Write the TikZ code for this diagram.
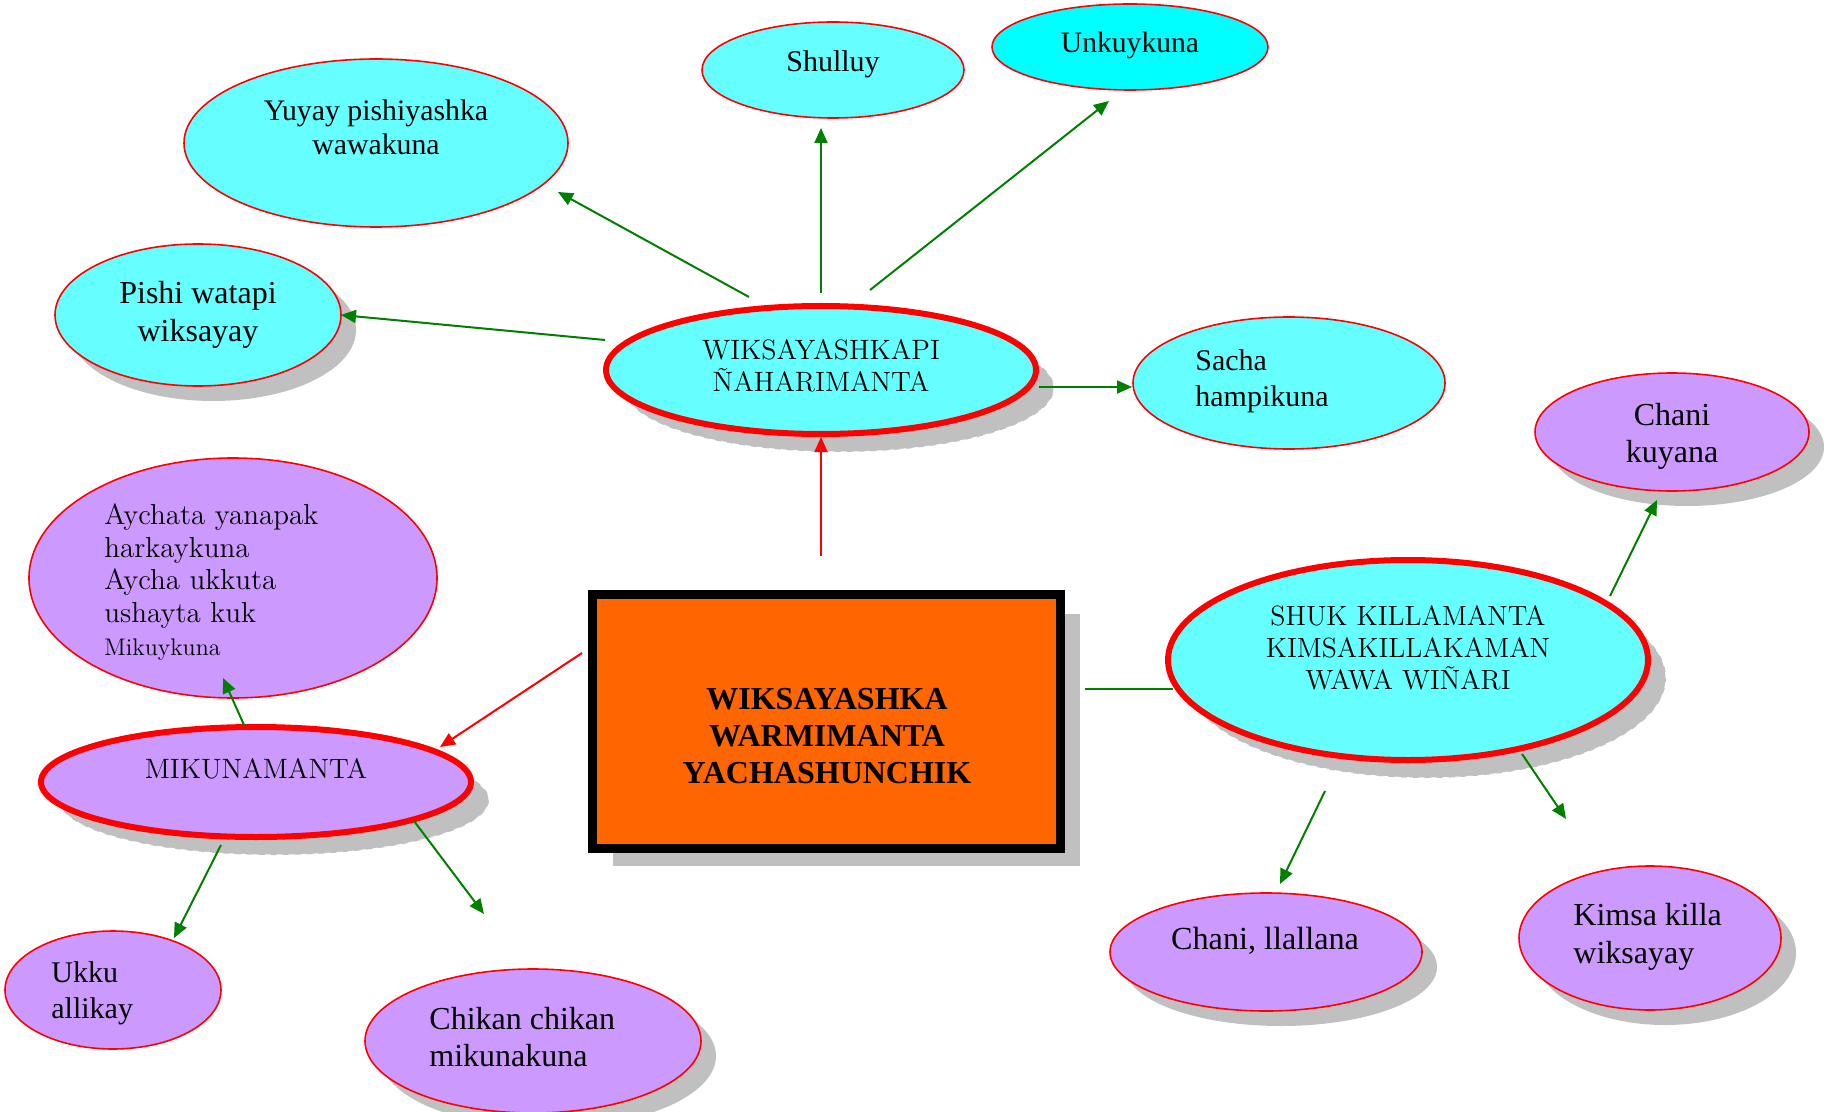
\documentclass[tikz,border=0pt]{standalone}
\usepackage{fontspec}
\newfontfamily\tms{Liberation Serif}
\usetikzlibrary{shapes.geometric,arrows.meta,shadows}
\definecolor{cy}{HTML}{66FFFF}
\definecolor{cyb}{HTML}{00FFFF}
\definecolor{pu}{HTML}{CC99FF}
\definecolor{og}{HTML}{FF6600}
\definecolor{gr}{HTML}{008000}
\definecolor{sh}{HTML}{C0C0C0}
\tikzset{
  ell/.style={ellipse, draw=red, line width=0.8pt, inner sep=0pt},
  bigell/.style={ellipse, draw=red, line width=3pt, inner sep=0pt},
  shad/.style={drop shadow={shadow xshift=7.5pt, shadow yshift=-7.5pt, fill=sh, opacity=1}},
  shadw/.style={drop shadow={shadow xshift=9pt, shadow yshift=-9pt, fill=sh, opacity=1, draw=white, dashed, line width=0.5pt}},
  txt/.style={inner sep=0pt, align=center, font=\tms\fontsize{15}{18}\selectfont},
  lmt/.style={inner sep=0pt, align=center, font=\fontsize{14}{16}\selectfont},
  garrow/.style={draw=gr, line width=1pt, -{Triangle[length=7.5pt,width=6.5pt]}},
  rarrow/.style={draw=red, line width=1pt, -{Triangle[length=7.5pt,width=6.5pt]}},
  gline/.style={draw=gr, line width=1pt}
}
\begin{document}
\begin{tikzpicture}[x=0.5pt,y=-0.5pt]
\useasboundingbox (0,0) rectangle (1824,1112);
% ellipses
\node[ell, fill=cy, minimum width=192pt, minimum height=84pt] (yuyay) at (376,143) {};
\node[ell, fill=cy, minimum width=131pt, minimum height=48pt] (shulluy) at (833,70) {};
\node[ell, fill=cyb, minimum width=138pt, minimum height=43pt] (unkuy) at (1130,47) {};
\node[ell, shad, fill=cy, minimum width=143pt, minimum height=71pt] (pishi) at (198,315) {};
\node[bigell, shadw, fill=cy, minimum width=215pt, minimum height=64pt] (wiks) at (821,370) {};
\node[ell, fill=cy, minimum width=156pt, minimum height=66pt] (sacha) at (1289,383) {};
\node[ell, shad, fill=pu, minimum width=137pt, minimum height=59pt] (chanik) at (1672,432) {};
\node[bigell, shadw, fill=cy, minimum width=240pt, minimum height=100pt] (shuk) at (1408,660) {};
\node[ell, fill=pu, minimum width=204pt, minimum height=120pt] (aych) at (233,578) {};
\node[bigell, shadw, fill=pu, minimum width=215pt, minimum height=55pt] (miku) at (256,782) {};
\node[ell, fill=pu, minimum width=108pt, minimum height=59pt] (ukku) at (113,990) {};
\node[ell, shad, fill=pu, minimum width=168pt, minimum height=72pt] (chikan) at (533,1041) {};
\node[ell, shad, fill=pu, minimum width=156pt, minimum height=59pt] (chanill) at (1266,952) {};
\node[ell, shad, fill=pu, minimum width=131pt, minimum height=72pt] (kimsa) at (1650,938) {};
% centre box
\node[draw=black, line width=4.5pt, fill=og, minimum width=234pt, minimum height=127pt, inner sep=0pt,
      drop shadow={shadow xshift=10pt, shadow yshift=-9.5pt, fill=sh, opacity=1, draw=white, line width=0.6pt}] (box) at (826.5,721) {};
% texts
\node[txt, font=\tms\fontsize{14.9}{17}\selectfont] (yuyayt) at (376,127) {Yuyay pishiyashka\\wawakuna};
\node[txt] (shulluyt) at (833,64) {Shulluy};
\node[txt, font=\tms\fontsize{14.8}{17}\selectfont] (unkuyt) at (1130,45) {Unkuykuna};
\node[txt, font=\tms\fontsize{16}{19}\selectfont] (pishit) at (198,315) {Pishi watapi\\wiksayay};
\node[lmt] (wikst) at (821,366) {WIKSAYASHKAPI\\ÑAHARIMANTA};
\node[txt, align=left, anchor=west] (sachat) at (1195,381) {Sacha\\hampikuna};
\node[txt, font=\tms\fontsize{16}{18.5}\selectfont] (chanikt) at (1672,436) {Chani\\kuyana};
\node[lmt, font=\fontsize{13.9}{16}\selectfont] (shukt) at (1408,648) {SHUK KILLAMANTA\\KIMSAKILLAKAMAN\\WAWA WIÑARI};
\node[txt, font=\tms\bfseries\fontsize{16}{18.5}\selectfont] (boxt) at (827,736) {WIKSAYASHKA\\WARMIMANTA\\YACHASHUNCHIK};
\node[lmt, align=left, anchor=west, font=\fontsize{14.5}{16.3}\selectfont] (aycht) at (104,582) {Aychata yanapak\\harkaykuna\\Aycha ukkuta\\ushayta kuk\\{\fontsize{12}{14}\selectfont Mikuykuna}};
\node[lmt] (mikut) at (256,769) {MIKUNAMANTA};
\node[txt, align=left, anchor=west] (ukkut) at (51,993) {Ukku\\allikay};
\node[txt, align=left, anchor=west, font=\tms\fontsize{16}{18.5}\selectfont] (chikant) at (429,1037) {Chikan chikan\\mikunakuna};
\node[txt, font=\tms\fontsize{16.1}{18}\selectfont] (chanillt) at (1265,941) {Chani, llallana};
\node[txt, align=left, anchor=west, font=\tms\fontsize{16}{19}\selectfont] (kimsat) at (1573,937) {Kimsa killa\\wiksayay};
% connector end points
\coordinate (a1s) at (749,297); \coordinate (a1e) at (558,192);
\coordinate (a2s) at (821,293); \coordinate (a2e) at (821,128);
\coordinate (a3s) at (870,290); \coordinate (a3e) at (1109,101);
\coordinate (a4s) at (605,340); \coordinate (a4e) at (341,315);
\coordinate (a5s) at (1039,387); \coordinate (a5e) at (1132,387);
\coordinate (r1s) at (821,556); \coordinate (r1e) at (821,437);
\coordinate (r2s) at (582,653); \coordinate (r2e) at (440,747);
\coordinate (l1s) at (1085,689); \coordinate (l1e) at (1173,689);
\coordinate (a6s) at (1610,596); \coordinate (a6e) at (1657,500);
\coordinate (a7s) at (1522,754); \coordinate (a7e) at (1566,819);
\coordinate (a8s) at (1325,791); \coordinate (a8e) at (1280,884);
\coordinate (a9s) at (244,725); \coordinate (a9e) at (223,678);
\coordinate (a10s) at (221,845); \coordinate (a10e) at (174,938);
\coordinate (a11s) at (414,821); \coordinate (a11e) at (484,914);
% connectors
\draw[garrow] (a1s) -- (a1e);
\draw[garrow] (a2s) -- (a2e);
\draw[garrow] (a3s) -- (a3e);
\draw[garrow] (a4s) -- (a4e);
\draw[garrow] (a5s) -- (a5e);
\draw[rarrow] (r1s) -- (r1e);
\draw[rarrow] (r2s) -- (r2e);
\draw[gline] (l1s) -- (l1e);
\draw[garrow] (a6s) -- (a6e);
\draw[garrow] (a7s) -- (a7e);
\draw[garrow] (a8s) -- (a8e);
\draw[garrow] (a9s) -- (a9e);
\draw[garrow] (a10s) -- (a10e);
\draw[garrow] (a11s) -- (a11e);
\end{tikzpicture}
\end{document}
